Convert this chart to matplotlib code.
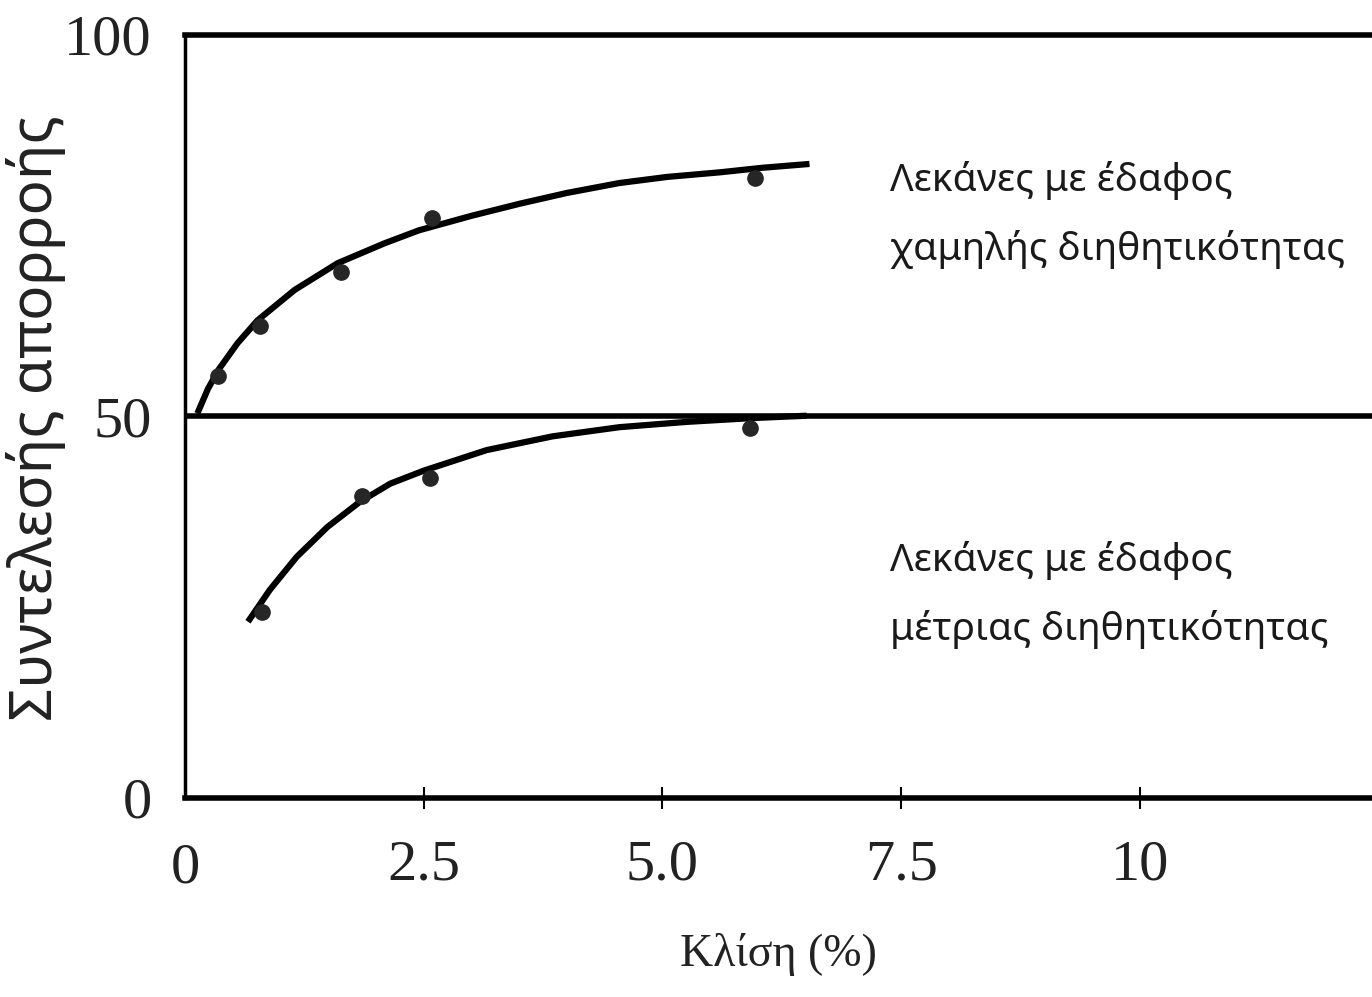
import matplotlib
matplotlib.use("Agg")
import matplotlib.pyplot as plt

# ---------------- data ----------------
# measured points, soil with low infiltration
low_x = [0.35, 0.79, 1.63, 2.59, 5.97]
low_y = [55.3, 61.9, 68.9, 76.0, 81.3]

# hand-drawn trend line through them
low_curve_x = [0.13, 0.24, 0.35, 0.55, 0.76, 1.15, 1.60, 2.09, 2.45, 3.00, 3.51, 4.00, 4.55, 5.05, 5.60, 6.05, 6.54]
low_curve_y = [50.4, 53.6, 56.1, 59.6, 62.6, 66.6, 70.1, 72.7, 74.4, 76.3, 77.9, 79.3, 80.6, 81.4, 82.0, 82.6, 83.1]

# measured points, soil with medium infiltration
mid_x = [0.81, 1.85, 2.57, 5.92]
mid_y = [24.4, 39.6, 41.9, 48.5]

mid_curve_x = [0.66, 0.89, 1.17, 1.49, 1.83, 2.15, 2.50, 3.16, 3.85, 4.55, 5.26, 5.95, 6.51]
mid_curve_y = [23.1, 27.3, 31.6, 35.5, 38.8, 41.2, 42.9, 45.6, 47.4, 48.6, 49.3, 49.8, 50.1]

x_ticks = [2.5, 5.0, 7.5, 10]
x_tick_labels = ["2.5", "5.0", "7.5", "10"]
y_ticks = [0, 50, 100]
y_tick_labels = ["0", "50", "100"]

label_low = "Λεκάνες με έδαφος\nχαμηλής διηθητικότητας"
label_mid = "Λεκάνες με έδαφος\nμέτριας διηθητικότητας"

# ---------------- figure ----------------
sans = ["Noto Sans", "DejaVu Sans"]
serif = ["Liberation Serif", "DejaVu Serif"]
ink = "#222222"

fig = plt.figure(figsize=(13.72, 9.97), dpi=100)
ax = fig.add_axes([0.1348, 0.1996, 0.8652, 0.7653])
ax.set_xlim(0, 12.43)
ax.set_ylim(0, 100)

ax.spines["right"].set_visible(False)
ax.spines["top"].set_linewidth(4)
ax.spines["bottom"].set_linewidth(4)
ax.spines["left"].set_linewidth(2.5)

ax.axhline(50, color="black", lw=4)

ax.plot(low_curve_x, low_curve_y, color="black", lw=4.5,
        solid_capstyle="butt", solid_joinstyle="round")
ax.plot(mid_curve_x, mid_curve_y, color="black", lw=4.5,
        solid_capstyle="butt", solid_joinstyle="round")
ax.plot(low_x, low_y, "o", color="#262626", ms=11)
ax.plot(mid_x, mid_y, "o", color="#262626", ms=11)

ax.set_xticks(x_ticks)
ax.set_xticklabels(x_tick_labels, family=serif, fontsize=42, color=ink)
ax.set_yticks(y_ticks)
ax.set_yticklabels(y_tick_labels, family=serif, fontsize=42, color=ink)
ax.tick_params(axis="x", direction="inout", length=16, width=1.5, pad=22)
ax.tick_params(axis="y", length=0, pad=24)

# the "0" under the origin has no tick mark
ax.text(0, -9.2, "0", family=serif, fontsize=42, color=ink,
        ha="center", va="center")

ax.set_xlabel("Κλίση (%)", family=serif, fontsize=33, color=ink, labelpad=30)
fig.text(0.026, 0.581, "Συντελεσής απορροής", family=sans, fontsize=42,
         color=ink, rotation=90, ha="center", va="center")

ax.text(7.38, 76.4, label_low, family=sans, fontsize=28, color="#1a1a1a",
        ha="left", va="center", linespacing=2.0)
ax.text(7.38, 26.6, label_mid, family=sans, fontsize=28, color="#1a1a1a",
        ha="left", va="center", linespacing=2.0)

fig.savefig("out.png", dpi=100)
